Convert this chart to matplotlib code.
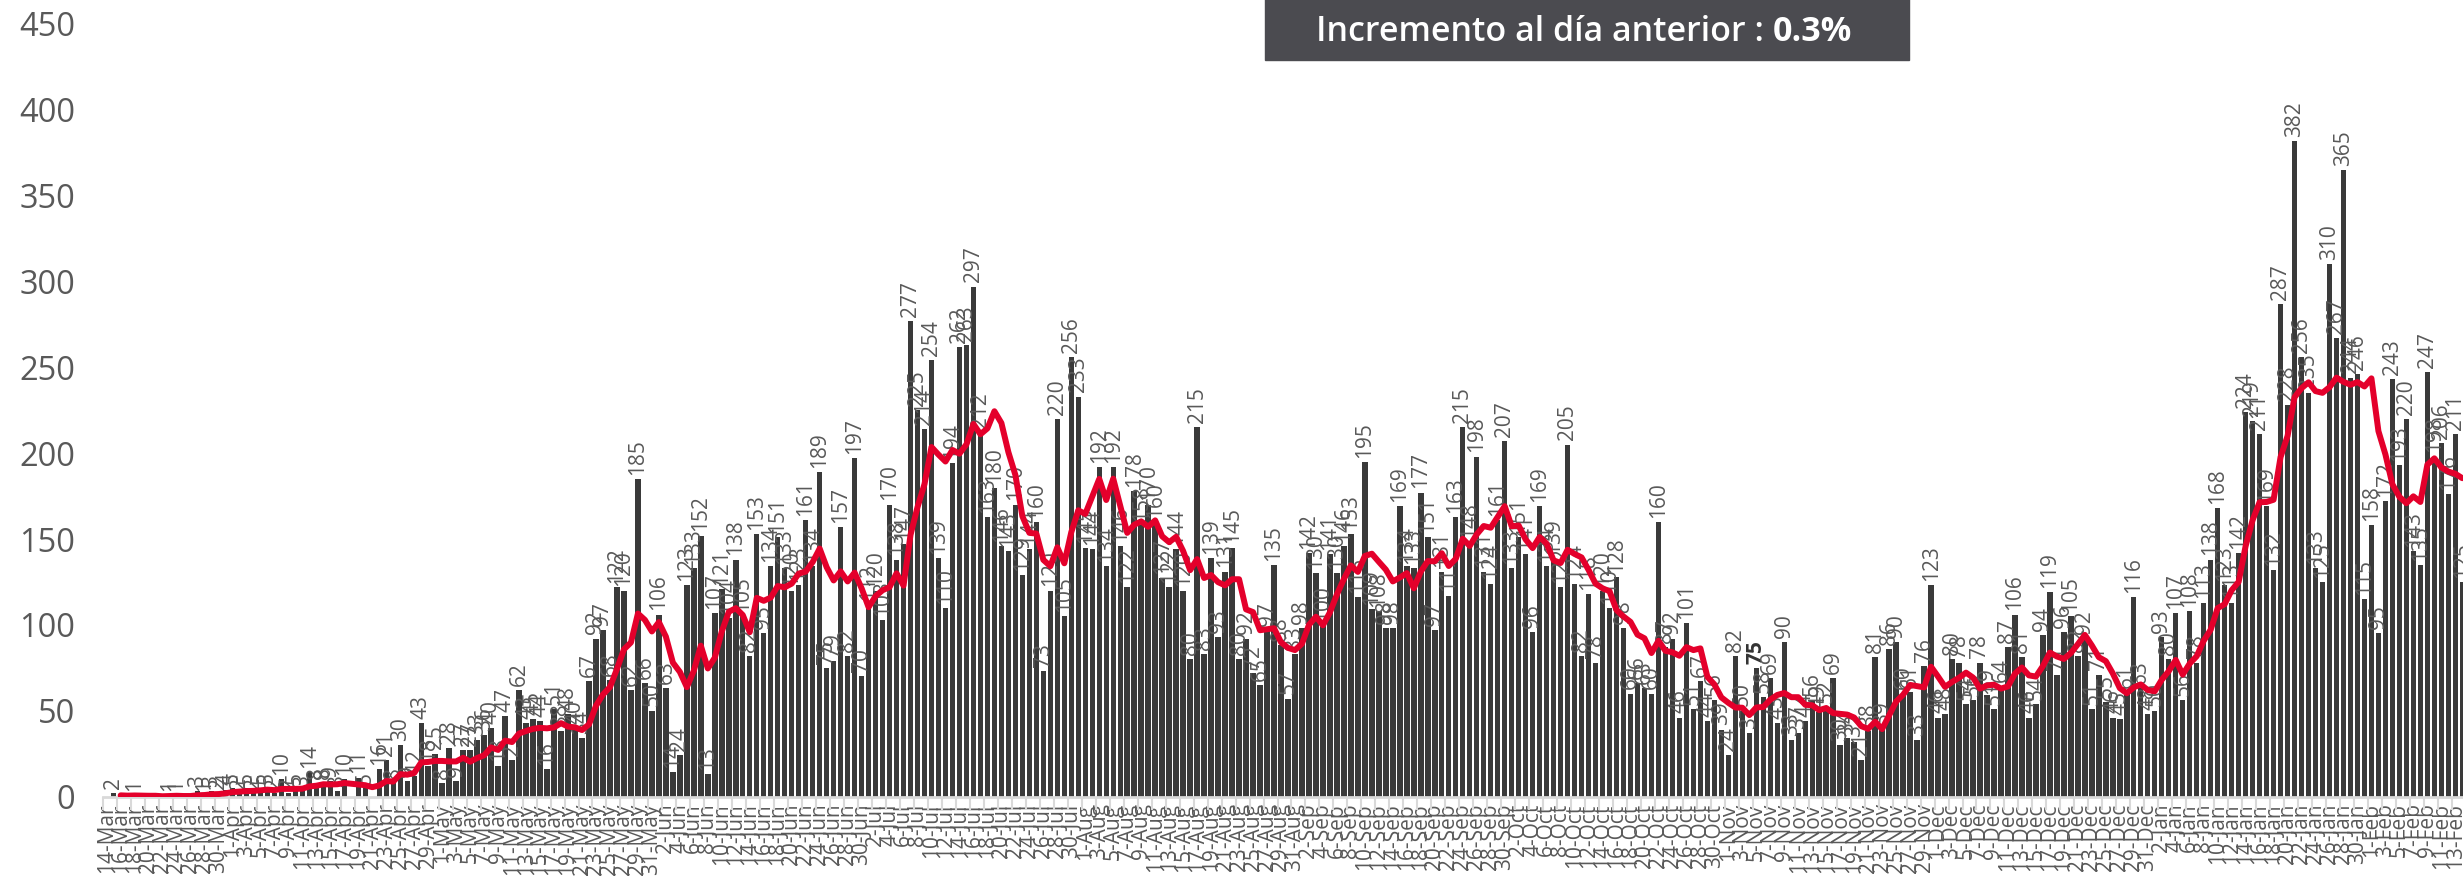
import matplotlib
matplotlib.use("Agg")
import matplotlib.pyplot as plt
from matplotlib.patches import Rectangle
import numpy as np
import pandas as pd

# daily values, 14-Mar-2020 .. 14-Feb-2021
mar = [0, 2, 0, 0, 1, 0, 0, 0, 0, 1, 1, 0, 0, 3, 1, 3, 2, 4]
apr = [5, 2, 5, 2, 5, 5, 2, 10, 2, 5, 3, 14, 8, 8, 9, 3, 10, 0, 11, 5,
       0, 16, 21, 8, 30, 9, 12, 43, 18, 25]
may = [8, 28, 9, 27, 27, 33, 36, 40, 18, 47, 21, 62, 43, 45, 44, 16, 51, 38,
       48, 40, 34, 67, 92, 97, 68, 122, 120, 62, 185, 66, 50]
jun = [106, 63, 14, 24, 123, 133, 152, 13, 107, 121, 104, 138, 105, 82, 153,
       95, 134, 151, 133, 120, 123, 161, 134, 189, 75, 79, 157, 82, 197, 70]
jul = [112, 120, 103, 170, 138, 147, 277, 225, 214, 254, 139, 110, 194, 262,
       263, 297, 212, 163, 180, 146, 143, 170, 129, 144, 160, 73, 120, 220,
       105, 256, 233]
aug = [145, 144, 192, 134, 192, 146, 122, 178, 158, 170, 160, 127, 122, 144,
       120, 80, 215, 83, 139, 93, 131, 145, 80, 92, 72, 65, 97, 135, 88, 57, 83]
sep = [98, 142, 130, 100, 141, 130, 146, 153, 116, 195, 109, 108, 98, 98, 169,
       134, 133, 177, 151, 97, 131, 117, 163, 215, 148, 198, 131, 124, 161, 207]
oct_ = [133, 151, 141, 96, 169, 134, 139, 122, 205, 124, 82, 118, 78, 120,
        110, 128, 98, 60, 66, 63, 60, 160, 87, 92, 46, 101, 51, 67, 44, 56, 39]
nov = [24, 82, 50, 37, 75, 58, 69, 43, 90, 33, 37, 44, 56, 49, 52, 69, 30, 34,
       32, 21, 38, 81, 39, 86, 90, 60, 61, 33, 76, 123]
dec = [46, 48, 80, 78, 54, 56, 78, 59, 51, 64, 87, 106, 81, 46, 54, 94, 119,
       71, 96, 105, 82, 92, 51, 71, 55, 46, 45, 61, 116, 63, 48]
jan = [50, 93, 80, 107, 56, 108, 78, 113, 138, 168, 123, 113, 142, 224, 219,
       211, 169, 132, 287, 228, 382, 256, 235, 133, 125, 310, 267, 365, 244,
       246, 115]
feb = [158, 95, 172, 243, 193, 220, 143, 135, 247, 198, 206, 176, 211, 125]

daily = mar + apr + may + jun + jul + aug + sep + oct_ + nov + dec + jan + feb
dates = pd.date_range("2020-03-14", periods=len(daily), freq="D")
date_labels = [f"{d.day}-{d.strftime('%b')}" for d in dates]
highlight_day = "2020-11-05"

avg7 = pd.Series(daily).rolling(7, min_periods=1).mean()

plt.rcParams['font.family'] = ['Open Sans', 'DejaVu Sans']
grey = '#595959'

W, H = 2463, 886
fig = plt.figure(figsize=(W / 100, H / 100), dpi=100)
left_px, zero_px, top_px = 102.7, 796.5, 24
ax = fig.add_axes([left_px / W, (H - zero_px) / H, 1 - left_px / W, (zero_px - top_px) / H])

x = np.arange(len(daily))
ax.bar(x, daily, width=0.78, color='#3a3a3a', zorder=2)
ax.plot(x[2:], avg7[2:], color='#e4002b', lw=4.3, zorder=4,
        solid_joinstyle='round', solid_capstyle='round')

hl = dates.get_loc(pd.Timestamp(highlight_day))
for i, v in enumerate(daily):
    if v > 0:
        ax.annotate(str(v), (i, v), xytext=(0, 3), textcoords='offset points',
                    rotation=90, ha='center', va='bottom', fontsize=15,
                    color='#333333' if i == hl else grey,
                    fontweight='bold' if i == hl else 'normal',
                    zorder=3, annotation_clip=False)

ax.set_xlim(-0.57, 337.1)
ax.set_ylim(0, 450)

ax.set_xticks(x[::2])
ax.set_xticklabels(date_labels[::2], rotation=90, fontsize=15, color=grey)
ax.set_xticks(x[::2] - 0.5, minor=True)
ax.tick_params(axis='x', which='major', length=0, pad=5)
ax.tick_params(axis='x', which='minor', length=9, width=1.5, color='#d9d9d9')

ax.set_yticks(np.arange(0, 451, 50))
ax.tick_params(axis='y', length=0, pad=20, labelsize=23.5, labelcolor=grey)

for s in ['left', 'right', 'top']:
    ax.spines[s].set_visible(False)
ax.spines['bottom'].set_color('#d9d9d9')
ax.spines['bottom'].set_linewidth(2)

# header box
bx0, bx1, by1 = 1265, 1909, 60
fig.patches.append(Rectangle((bx0 / W, 1 - by1 / H), (bx1 - bx0) / W, by1 / H + 0.01,
                             transform=fig.transFigure, color='#4b4b50', zorder=5))
t1 = fig.text(1316 / W, 1 - 32 / H, "Incremento al día anterior : ", color='white',
              fontsize=24.5, fontweight='semibold', ha='left', va='center', zorder=6)
fig.canvas.draw()
bb = t1.get_window_extent(renderer=fig.canvas.get_renderer())
fig.text(bb.x1 / W, 1 - 32 / H, "0.3%", color='white', fontsize=24.5,
         fontweight='bold', ha='left', va='center', zorder=6)

fig.savefig("out.png", dpi=100, facecolor='white')
